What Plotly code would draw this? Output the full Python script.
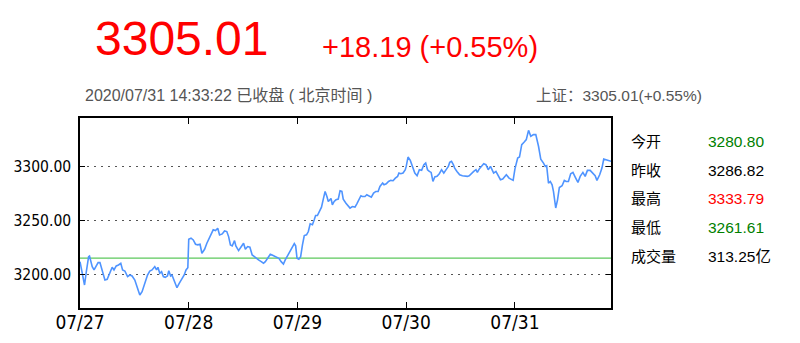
import plotly.graph_objects as go

# ---------------- data ----------------
# trading minutes since 07/27 09:30 (240 trading minutes per day)
minute = [
    0, 10, 14, 19, 21, 27, 31, 36, 40, 44, 49, 55, 60, 66, 71, 75, 80, 85, 90, 94,
    99, 105, 110, 115, 121, 127, 132, 137, 143, 149, 154, 159, 165, 169, 172, 176, 180, 184, 188, 193,
    196, 200, 203, 207, 211, 214, 219, 224, 230, 234, 238,
    240, 245, 250, 255, 260, 265, 269, 275, 280, 284, 289, 294, 299, 304, 308, 314, 319, 324, 328, 332,
    336, 341, 344, 350, 355, 361, 365, 370, 375, 380, 385, 390, 394, 400, 405, 409, 414, 420, 424, 429,
    434, 439, 444, 449, 453, 459, 464, 468, 473, 476, 479,
    483, 487, 491, 495, 500, 504, 508, 513, 517, 520, 524, 528, 533, 537, 541, 545, 548, 554, 557, 561,
    565, 570, 574, 578, 581, 587, 592, 596, 601, 607, 611, 616, 620, 623, 629, 633, 638, 643, 648, 653,
    658, 662, 668, 671, 676, 681, 686, 691, 696, 701, 704, 708, 713, 718,
    720, 724, 729, 734, 739, 744, 749, 754, 759, 763, 767, 771, 775, 779, 783, 788, 793, 798, 803, 807,
    813, 816, 820, 824, 827, 832, 838, 844, 849, 855, 859, 864, 869, 874, 877, 881, 886, 891, 896, 901,
    906, 910, 913, 918, 923, 928, 933, 938, 941, 947, 951, 956,
    960, 966, 970, 975, 980, 985, 990, 995, 1001, 1006, 1012, 1017, 1023, 1027, 1030, 1034, 1038, 1042, 1045, 1050,
    1054, 1058, 1064, 1069, 1073, 1078, 1083, 1088, 1093, 1099, 1104, 1110, 1115, 1120, 1126, 1132, 1137, 1141, 1147, 1152,
    1156, 1161, 1167, 1172,
]
price = [
    3211.7, 3190.0, 3202.4, 3216.4, 3217.0, 3207.1, 3204.0, 3207.1, 3210.8, 3210.8, 3202.4, 3194.6, 3195.3, 3200.9, 3206.5, 3204.0, 3207.7, 3208.6, 3210.2, 3204.0,
    3203.0, 3197.8, 3199.3, 3198.4, 3194.6, 3186.9, 3180.7, 3183.8, 3191.5, 3199.3, 3203.0, 3204.0, 3207.1, 3204.0, 3206.5, 3200.9, 3202.4, 3197.8, 3197.1, 3198.4,
    3203.3, 3198.4, 3199.3, 3194.6, 3190.0, 3187.5, 3191.5, 3195.3, 3199.3, 3204.0, 3206.0,
    3232.6, 3233.5, 3231.9, 3227.9, 3227.3, 3227.9, 3219.5, 3223.2, 3228.8, 3232.6, 3235.7, 3241.3, 3240.6, 3242.8, 3236.6, 3237.5, 3240.3, 3239.7, 3235.0, 3227.3,
    3226.3, 3231.3, 3226.3, 3222.0, 3225.1, 3228.8, 3223.2, 3225.7, 3225.1, 3217.9, 3216.4, 3214.2, 3213.3, 3211.7, 3210.2, 3211.7, 3214.8, 3218.6, 3217.9, 3217.0,
    3216.4, 3214.8, 3211.7, 3209.5, 3213.3, 3218.0, 3222.6, 3225.7, 3228.5, 3226.4, 3214.9,
    3214.0, 3216.4, 3227.3, 3236.0, 3236.6, 3239.7, 3246.9, 3246.0, 3250.6, 3254.6, 3254.6, 3258.4, 3262.4, 3269.9, 3277.0, 3272.3, 3267.7, 3270.5, 3264.6, 3267.7,
    3269.2, 3269.9, 3277.6, 3277.0, 3269.9, 3266.1, 3263.0, 3261.5, 3263.0, 3262.4, 3265.5, 3269.2, 3273.0, 3272.3, 3272.3, 3273.9, 3273.0, 3271.7, 3275.4, 3277.0,
    3277.0, 3281.7, 3284.8, 3283.2, 3284.1, 3286.3, 3287.3, 3287.0, 3289.4, 3291.0, 3294.1, 3293.5, 3294.1, 3297.2,
    3300.3, 3309.0, 3305.9, 3300.3, 3294.1, 3291.6, 3297.2, 3296.6, 3301.9, 3303.4, 3297.2, 3295.6, 3294.7, 3286.3, 3290.4, 3291.0, 3293.5, 3297.2, 3294.1, 3296.6,
    3300.3, 3304.0, 3305.0, 3301.9, 3298.7, 3295.6, 3292.5, 3291.6, 3291.0, 3291.0, 3291.6, 3294.1, 3295.6, 3297.2, 3294.7, 3297.8, 3300.3, 3302.8, 3301.9, 3297.2,
    3300.3, 3297.2, 3294.1, 3295.6, 3291.6, 3287.9, 3288.5, 3291.0, 3292.5, 3289.4, 3288.5, 3287.3,
    3298.0, 3308.1, 3309.0, 3320.5, 3322.7, 3325.2, 3333.8, 3328.3, 3329.8, 3329.8, 3319.0, 3307.1, 3303.4, 3300.3, 3300.9, 3284.8, 3286.3, 3283.2, 3277.0, 3261.6,
    3269.2, 3280.7, 3282.3, 3287.3, 3286.3, 3286.3, 3293.5, 3294.7, 3290.4, 3285.4, 3291.0, 3294.7, 3291.0, 3296.6, 3296.6, 3294.1, 3291.6, 3287.3, 3292.5, 3298.7,
    3307.1, 3306.5, 3305.9, 3305.0,
]
base_level = 3215.0
day_ticks = [0, 240, 480, 720, 960]
day_labels = ["07/27", "07/28", "07/29", "07/30", "07/31"]
y_ticks = [3200, 3250, 3300]

last_price = "3305.01"
change_text = "+18.19 (+0.55%)"
status_text = "2020/07/31 14:33:22 已收盘 ( 北京时间 )"
index_text = "上证：3305.01(+0.55%)"
stat_names = ["今开", "昨收", "最高", "最低", "成交量"]
stat_values = ["3280.80", "3286.82", "3333.79", "3261.61", "313.25亿"]
stat_colors = ["#008000", "#000000", "#ff0000", "#008000", "#000000"]

# ---------------- layout geometry ----------------
W, H = 800, 343
L, R, T, B = 80, 189, 118, 35
PW, PH = W - L - R, H - T - B

def px(x):
    return (x - L) / PW

def py(y):
    return (H - B - y) / PH

TEXT_FONT = "Liberation Sans, Arial, Noto Sans CJK SC, sans-serif"
AXIS_FONT = "DejaVu Sans Condensed, DejaVu Sans, sans-serif"

fig = go.Figure()
fig.add_trace(go.Scatter(
    x=[0, 1172], y=[base_level, base_level], mode="lines",
    line=dict(color="#5cc85c", width=1.2), hoverinfo="skip", showlegend=False))
fig.add_trace(go.Scatter(
    x=minute, y=price, mode="lines",
    line=dict(color="#4f94ff", width=1.6), showlegend=False))

ann = []
ann.append(dict(text=last_price, x=px(93), y=py(38.5), xanchor="left", yanchor="middle",
                font=dict(family=TEXT_FONT, size=48, color="#ff0000")))
ann.append(dict(text=change_text, x=px(320), y=py(47), xanchor="left", yanchor="middle",
                font=dict(family=TEXT_FONT, size=29, color="#ff0000")))
ann.append(dict(text=status_text, x=px(83), y=py(95), xanchor="left", yanchor="middle",
                font=dict(family=TEXT_FONT, size=16, color="#555555")))
ann.append(dict(text=index_text, x=px(704), y=py(95), xanchor="right", yanchor="middle",
                font=dict(family=TEXT_FONT, size=15.5, color="#555555")))
row_y = [141, 170, 198, 227, 256]
for name, val, col, yy in zip(stat_names, stat_values, stat_colors, row_y):
    ann.append(dict(text=name, x=px(629), y=py(yy), xanchor="left", yanchor="middle",
                    font=dict(family=TEXT_FONT, size=15, color="#000000")))
    ann.append(dict(text=val, x=px(706), y=py(yy), xanchor="left", yanchor="middle",
                    font=dict(family=TEXT_FONT, size=15.5, color=col)))
for a in ann:
    a.update(xref="paper", yref="paper", showarrow=False)

fig.update_layout(
    width=W, height=H,
    margin=dict(l=L, r=R, t=T, b=B, pad=0, autoexpand=False),
    paper_bgcolor="white", plot_bgcolor="white",
    annotations=ann,
    xaxis=dict(range=[0, 1172], tickvals=day_ticks, ticktext=day_labels,
               showgrid=False, zeroline=False, automargin=False,
               showline=True, linecolor="black", linewidth=1.5, mirror="ticks",
               ticks="inside", ticklen=6, tickwidth=1, tickcolor="black",
               ticklabelstandoff=-4,
               tickfont=dict(family=AXIS_FONT, size=19, color="black")),
    yaxis=dict(range=[3168.6, 3345.3], tickvals=y_ticks, tickformat=".2f",
               showgrid=True, gridcolor="#555555", gridwidth=1, griddash="2px,5px",
               zeroline=False, automargin=False,
               showline=True, linecolor="black", linewidth=1.5, mirror="ticks",
               ticks="inside", ticklen=5, tickwidth=1, tickcolor="black",
               ticklabelstandoff=4,
               tickfont=dict(family=AXIS_FONT, size=15.5, color="black")),
)

fig.write_html("out.html")
